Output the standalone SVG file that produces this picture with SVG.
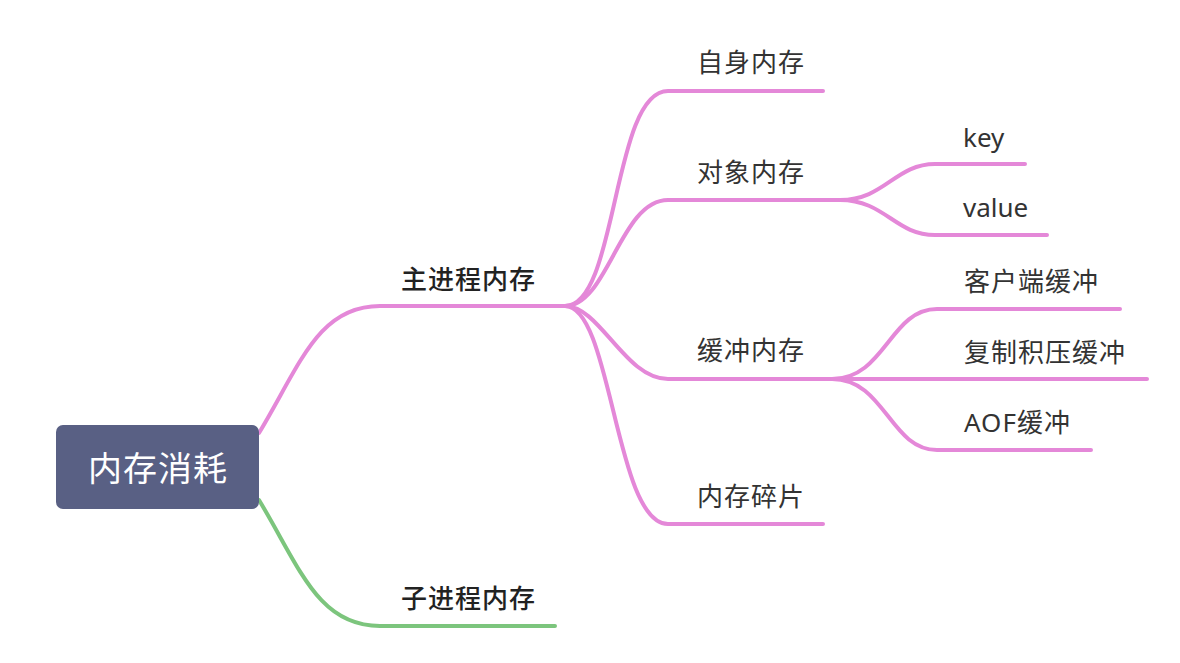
<svg xmlns="http://www.w3.org/2000/svg" width="1180" height="663" viewBox="0 0 1180 663">
<style>
.l{fill:none;stroke-width:4;stroke-linecap:round;stroke-linejoin:round}
.p{stroke:#E488D8}
.g{stroke:#7CC57D}
.t{font-family:"Noto Sans","Noto Sans CJK SC",sans-serif;font-size:26px;fill:#333;letter-spacing:1px}
.b{font-weight:500;fill:#222}
.r{font-family:"Noto Sans CJK SC",sans-serif;font-size:34px;fill:#fff;letter-spacing:1px}
</style>
<rect width="1180" height="663" fill="#fff"/>
<g id="connectors">
<path class="l p" d="M259,433 C300,365 318,306 380,306 L568,306"/>
<path class="l g" d="M259,500 C300,568 318,626 380,626 L555,626"/>
<path class="l p" d="M565,306 C618,306 612,91 668,91 L823,91"/>
<path class="l p" d="M565,306 C608,306 620,200 668,200 L848,200"/>
<path class="l p" d="M565,306 C600,306 625,379 668,379 L845,379"/>
<path class="l p" d="M565,306 C612,306 615,524 668,524 L823,524"/>
<path class="l p" d="M840,200 C885,200 895,164 935,164 L1025,164"/>
<path class="l p" d="M840,200 C885,200 895,235 935,235 L1047,235"/>
<path class="l p" d="M832,379 C885,379 890,309 937,309 L1120,309"/>
<path class="l p" d="M832,379 L1147,379"/>
<path class="l p" d="M832,379 C885,379 890,450 937,450 L1091,450"/>
</g>
<g id="root">
<rect x="56" y="425" width="203" height="84" rx="7" fill="#596084"/>
<text class="r" x="158" y="481" text-anchor="middle">内存消耗</text>
</g>
<g id="n-main"><text class="t b" x="401" y="289">主进程内存</text></g>
<g id="n-child"><text class="t b" x="401" y="608">子进程内存</text></g>
<g id="n-self"><text class="t" x="697" y="72">自身内存</text></g>
<g id="n-obj"><text class="t" x="697" y="182">对象内存</text></g>
<g id="n-buf"><text class="t" x="697" y="360">缓冲内存</text></g>
<g id="n-frag"><text class="t" x="697" y="506">内存碎片</text></g>
<g id="n-key"><text class="t" x="963" y="147" style="letter-spacing:0">key</text></g>
<g id="n-value"><text class="t" x="963" y="217" style="letter-spacing:0">value</text></g>
<g id="n-client"><text class="t" x="964" y="291">客户端缓冲</text></g>
<g id="n-repl"><text class="t" x="964" y="362">复制积压缓冲</text></g>
<g id="n-aof"><text class="t" x="964" y="432">AOF缓冲</text></g>
</svg>
